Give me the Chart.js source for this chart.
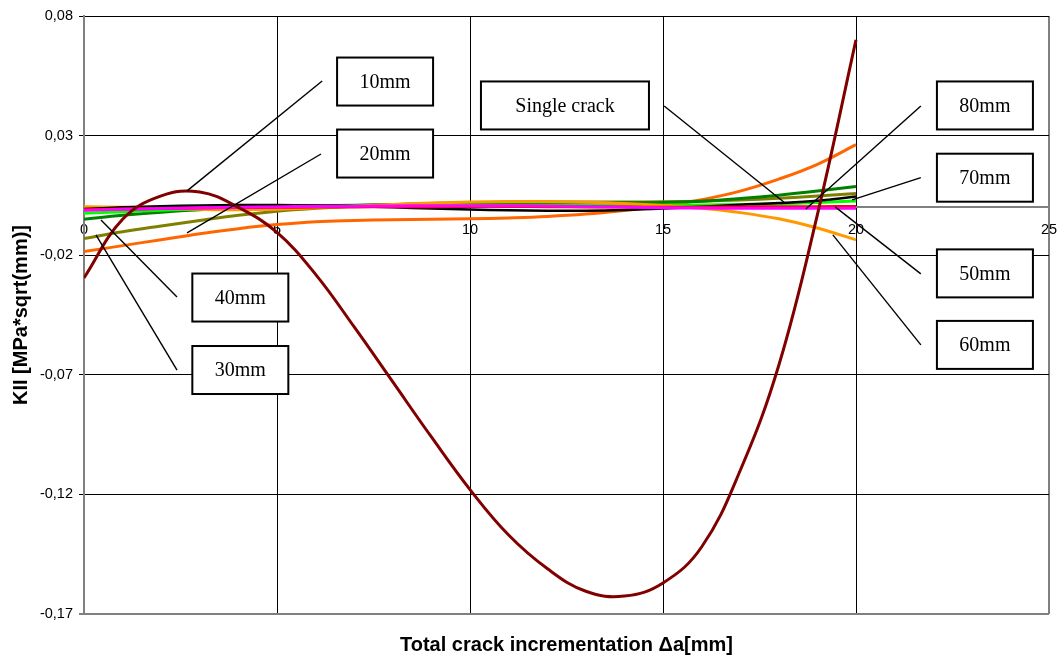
<!DOCTYPE html>
<html>
<head>
<meta charset="utf-8">
<script src="https://cdn.jsdelivr.net/npm/chart.js@4/dist/chart.umd.min.js"></script>
<style>
  html, body { margin: 0; padding: 0; background: #fff; }
</style>
</head>
<body>
<canvas id="kiiChart" width="1059" height="660"></canvas>
<script>
// crack increment steps (mm)
var crackSteps = [0, 1, 2, 3, 4, 5, 6, 7, 8, 9, 10, 11, 12, 13, 14, 15, 16, 17, 18, 19, 20];

// KII values per crack spacing
var kii10mm = [-0.0295, -0.005, 0.0048, 0.0064, 0.0000, -0.0105, -0.028, -0.050, -0.073, -0.096, -0.118, -0.137, -0.151, -0.1605, -0.1625, -0.157, -0.142, -0.110, -0.066, -0.003, 0.070];
var kii20mm = [-0.0185, -0.016, -0.0135, -0.011, -0.0089, -0.0072, -0.006, -0.0055, -0.0052, -0.005, -0.0048, -0.0044, -0.0038, -0.0028, -0.0013, 0.0005, 0.0032, 0.0068, 0.0118, 0.018, 0.0262];
var kii30mm = [-0.013, -0.0102, -0.0078, -0.0055, -0.0033, -0.0016, -0.0004, 0.0005, 0.0011, 0.0016, 0.0019, 0.0021, 0.0022, 0.0022, 0.0022, 0.0023, 0.0026, 0.0031, 0.0038, 0.0047, 0.0058];
var kii40mm = [-0.005, -0.0033, -0.002, -0.001, -0.0003, 0.0002, 0.0006, 0.0009, 0.0012, 0.0014, 0.0016, 0.0017, 0.0018, 0.0018, 0.0019, 0.002, 0.0026, 0.0037, 0.0051, 0.0068, 0.0087];
var kii50mm = [-0.0012, -0.0008, -0.0005, -0.0002, 0.0, 0.0002, 0.0004, 0.0005, 0.0006, 0.0007, 0.0007, 0.0007, 0.0006, 0.0004, 0.0001, -0.0002, -0.0003, -0.0004, -0.0004, -0.0004, -0.0004];
var kii60mm = [0.0003, 0.0, -0.0004, -0.0008, -0.001, -0.0008, -0.0002, 0.0005, 0.0012, 0.0018, 0.0022, 0.0024, 0.0024, 0.0021, 0.0016, 0.0008, -0.0004, -0.0022, -0.0048, -0.0086, -0.0136];
var kii70mm = [-0.0025, -0.0018, -0.0012, -0.0007, -0.0003, 0.0, 0.0003, 0.0005, 0.0007, 0.0008, 0.0009, 0.0009, 0.0009, 0.0009, 0.0009, 0.0009, 0.001, 0.0012, 0.0015, 0.002, 0.0027];
var kii80mm = [-0.001, -0.0007, -0.0005, -0.0003, -0.0001, 0.0, 0.0001, 0.0002, 0.0003, 0.0003, 0.0004, 0.0004, 0.0003, 0.0002, 0.0001, 0.0, 0.0001, 0.0002, 0.0003, 0.0003, 0.0004];
var kiiSingle = [-0.0007, 0.0, 0.0005, 0.0008, 0.001, 0.001, 0.0008, 0.0005, 0.0, -0.0005, -0.0009, -0.0012, -0.0014, -0.0014, -0.0011, -0.0005, 0.0003, 0.0011, 0.0018, 0.0028, 0.0045];

var xTicks = [0, 5, 10, 15, 20, 25];
var yTicks = [-0.17, -0.12, -0.07, -0.02, 0.03, 0.08];

// label boxes (centre in data units) and their leader lines
var callouts = [
  { text: '10mm', w: 96, box: [7.80, 0.0526], from: [6.17, 0.0528], to: [2.67, 0.0069] },
  { text: '20mm', w: 96, box: [7.80, 0.0225], from: [6.14, 0.0223], to: [2.67, -0.0107] },
  { text: '40mm', w: 96, box: [4.05, -0.0377], from: [2.41, -0.0375], to: [0.44, -0.0053] },
  { text: '30mm', w: 96, box: [4.05, -0.068], from: [2.41, -0.068], to: [0.31, -0.0115] },
  { text: 'Single crack', w: 168, box: [12.46, 0.0426], from: [15.03, 0.0424], to: [18.16, 0.0018] },
  { text: '80mm', w: 96, box: [23.34, 0.0426], from: [21.68, 0.0424], to: [18.70, -0.0007] },
  { text: '70mm', w: 96, box: [23.34, 0.0124], from: [21.68, 0.0124], to: [19.90, 0.0031] },
  { text: '50mm', w: 96, box: [23.34, -0.0276], from: [21.68, -0.0278], to: [19.46, 0.0002] },
  { text: '60mm', w: 96, box: [23.34, -0.0575], from: [21.68, -0.0575], to: [19.40, -0.0115] }
];

function toPoints(values) {
  return values.map(function (v, i) { return { x: crackSteps[i], y: v }; });
}

function series(label, values, color, width) {
  return {
    label: label,
    data: toPoints(values),
    borderColor: color,
    backgroundColor: color,
    borderWidth: width || 3,
    pointRadius: 0,
    showLine: true,
    fill: false,
    tension: 0.4
  };
}

var calloutPlugin = {
  id: 'callouts',
  afterDatasetsDraw: function (chart) {
    var ctx = chart.ctx;
    var xs = chart.scales.x, ys = chart.scales.y;
    ctx.save();
    callouts.forEach(function (c) {
      ctx.strokeStyle = '#000';
      ctx.lineWidth = 1.4;
      ctx.beginPath();
      ctx.moveTo(xs.getPixelForValue(c.from[0]), ys.getPixelForValue(c.from[1]));
      ctx.lineTo(xs.getPixelForValue(c.to[0]), ys.getPixelForValue(c.to[1]));
      ctx.stroke();

      var cx = xs.getPixelForValue(c.box[0]);
      var cy = ys.getPixelForValue(c.box[1]);
      ctx.fillStyle = '#fff';
      ctx.fillRect(cx - c.w / 2, cy - 24, c.w, 48);
      ctx.lineWidth = 2;
      ctx.strokeRect(cx - c.w / 2, cy - 24, c.w, 48);
      ctx.fillStyle = '#000';
      ctx.font = '20px "Liberation Serif", "Times New Roman", serif';
      ctx.textAlign = 'center';
      ctx.textBaseline = 'middle';
      ctx.fillText(c.text, cx, cy + 1);
    });
    ctx.restore();
  }
};

var tickFont = { family: '"Liberation Sans", Arial, sans-serif', size: 14.5 };
var titleFont = { family: '"Liberation Sans", Arial, sans-serif', size: 20, weight: 'bold' };

new Chart(document.getElementById('kiiChart'), {
  type: 'scatter',
  data: {
    datasets: [
      series('10mm', kii10mm, '#800000'),
      series('50mm', kii50mm, '#FF00FF'),
      series('80mm', kii80mm, '#FF0000'),
      series('Single crack', kiiSingle, '#000000', 2.5),
      series('60mm', kii60mm, '#FF9900'),
      series('70mm', kii70mm, '#00FF00'),
      series('40mm', kii40mm, '#008000'),
      series('30mm', kii30mm, '#808000'),
      series('20mm', kii20mm, '#FF6600')
    ]
  },
  options: {
    responsive: false,
    animation: false,
    layout: { padding: { top: 16, right: 10, left: 0, bottom: 0 } },
    plugins: {
      legend: { display: false },
      tooltip: { enabled: false }
    },
    scales: {
      x: {
        type: 'linear',
        position: { y: 0 },
        min: 0,
        max: 25,
        afterBuildTicks: function (scale) {
          scale.ticks = xTicks.map(function (v) { return { value: v }; });
        },
        afterFit: function (scale) {
          scale.paddingLeft = 0;
          scale.paddingRight = 0;
        },
        ticks: {
          color: '#000',
          font: tickFont,
          padding: 9,
          maxRotation: 0,
          autoSkip: false
        },
        grid: {
          color: function (c) {
            return (c.tick && (c.tick.value === 0 || c.tick.value === 25)) ? '#808080' : '#000';
          },
          lineWidth: function (c) {
            return (c.tick && (c.tick.value === 0 || c.tick.value === 25)) ? 2 : 1;
          },
          tickLength: 5
        },
        border: { color: '#808080', width: 2 }
      },
      xBottom: {
        type: 'linear',
        axis: 'x',
        position: 'bottom',
        min: 0,
        max: 25,
        grid: { display: false },
        border: { display: false },
        ticks: { display: false },
        title: {
          display: true,
          text: 'Total crack incrementation \u0394a[mm]',
          color: '#000',
          font: titleFont,
          padding: { top: 0, bottom: 3 }
        },
        afterFit: function (scale) {
          scale.height = 46;
          scale.paddingLeft = 0;
          scale.paddingRight = 0;
        }
      },
      y: {
        type: 'linear',
        min: -0.17,
        max: 0.08,
        afterBuildTicks: function (scale) {
          scale.ticks = yTicks.map(function (v) { return { value: v }; });
        },
        afterFit: function (scale) { scale.width = 84; },
        ticks: {
          color: '#000',
          font: tickFont,
          padding: 6,
          callback: function (v) { return v.toFixed(2).replace('.', ','); }
        },
        grid: {
          color: function (c) {
            return (c.tick && c.tick.value === -0.17) ? '#808080' : '#000';
          },
          lineWidth: function (c) {
            return (c.tick && c.tick.value === -0.17) ? 2 : 1;
          },
          tickLength: 5
        },
        border: { color: '#808080', width: 2 },
        title: {
          display: true,
          text: 'KII [MPa*sqrt(mm)]',
          color: '#000',
          font: titleFont,
          padding: { top: 9, bottom: 0 }
        }
      }
    }
  },
  plugins: [calloutPlugin]
});
</script>
</body>
</html>
